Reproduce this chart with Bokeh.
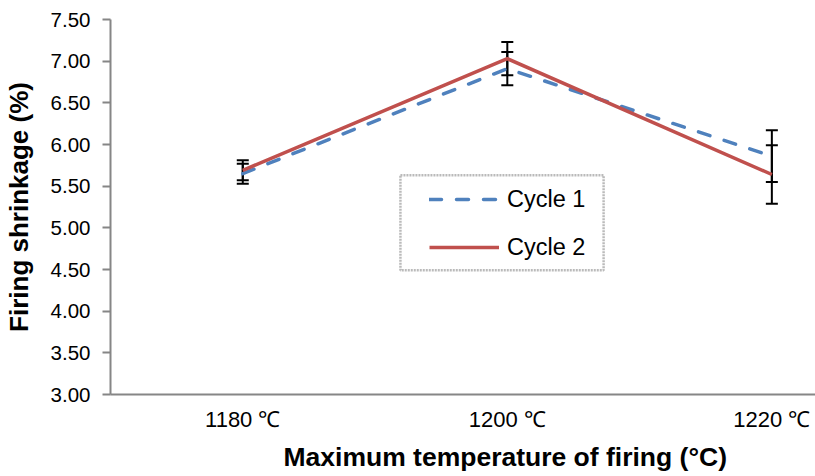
from bokeh.plotting import figure
from bokeh.models import (ColumnDataSource, Range1d, FixedTicker, Whisker, TeeHead,
                          Legend, LegendItem, BoxAnnotation, Title)
from bokeh.embed import file_html
from bokeh.resources import INLINE

# Firing shrinkage per maximum firing temperature, two firing cycles
categories = ["1180 \u2103", "1200 \u2103", "1220 \u2103"]
cycle1 = [5.65, 6.91, 5.86]
cycle1_err = [0.12, 0.20, 0.31]
cycle2 = [5.69, 7.03, 5.64]
cycle2_err = [0.12, 0.20, 0.35]
y_ticks = [3.0, 3.5, 4.0, 4.5, 5.0, 5.5, 6.0, 6.5, 7.0, 7.5]

xs = list(range(len(categories)))
BLUE = "#4F81BD"
RED = "#C0504D"
AXIS = "#868686"
FONT = "Liberation Sans"

src1 = ColumnDataSource(dict(x=xs, y=cycle1,
                             lo=[v - e for v, e in zip(cycle1, cycle1_err)],
                             hi=[v + e for v, e in zip(cycle1, cycle1_err)]))
src2 = ColumnDataSource(dict(x=xs, y=cycle2,
                             lo=[v - e for v, e in zip(cycle2, cycle2_err)],
                             hi=[v + e for v, e in zip(cycle2, cycle2_err)]))

p = figure(width=815, height=476, output_backend="svg", toolbar_location=None,
           x_range=Range1d(-0.5, 2.165), y_range=Range1d(3.0, 7.5),
           min_border_left=110, min_border_right=0, min_border_top=19,
           min_border_bottom=82)
p.outline_line_color = None
p.grid.visible = False
p.background_fill_color = "white"
p.border_fill_color = "white"

r1 = p.line("x", "y", source=src1, line_color=BLUE, line_width=3.5,
            line_dash="12 15", line_cap="round")
r2 = p.line("x", "y", source=src2, line_color=RED, line_width=3.5)

for src in (src1, src2):
    p.add_layout(Whisker(source=src, base="x", lower="lo", upper="hi",
                         line_color="black", line_width=2,
                         lower_head=TeeHead(size=12, line_color="black", line_width=2),
                         upper_head=TeeHead(size=12, line_color="black", line_width=2)))

# x axis: category labels, no tick marks
xa = p.xaxis[0]
xa.ticker = FixedTicker(ticks=xs)
xa.major_label_overrides = {i: c for i, c in zip(xs, categories)}
xa.major_tick_out = 0
xa.major_tick_in = 0
xa.minor_tick_out = 0
xa.minor_tick_in = 0
xa.axis_line_color = AXIS
xa.axis_line_width = 2
xa.major_label_text_font = FONT
xa.major_label_text_font_size = "22px"
xa.major_label_text_color = "black"
xa.major_label_standoff = 12

# x axis title, centred under the middle category
p.add_layout(Title(text="Maximum temperature of firing (\u00b0C)", align="left",
                   offset=173, standoff=10,
                   text_font=FONT, text_font_style="bold", text_font_size="26.5px",
                   text_color="black"), "below")

ya = p.yaxis[0]
ya.ticker = FixedTicker(ticks=y_ticks)
ya.major_label_overrides = {t: f"{t:.2f}" for t in y_ticks}
ya.major_tick_out = 8
ya.major_tick_in = 0
ya.minor_tick_out = 0
ya.minor_tick_in = 0
ya.major_tick_line_color = AXIS
ya.major_tick_line_width = 2
ya.axis_line_color = AXIS
ya.axis_line_width = 2
ya.major_label_text_font = FONT
ya.major_label_text_font_size = "20.5px"
ya.major_label_text_color = "black"
ya.major_label_standoff = 12
ya.axis_label = "Firing shrinkage (%)"
ya.axis_label_text_font = FONT
ya.axis_label_text_font_style = "bold"
ya.axis_label_text_font_size = "26px"
ya.axis_label_text_color = "black"
ya.axis_label_standoff = 14

# legend frame
p.add_layout(BoxAnnotation(left=0.596, right=1.364, top=5.63, bottom=4.49,
                           fill_color="white", fill_alpha=1.0,
                           line_color="#1a1a1a", line_width=2.5, line_dash="2 1"))

legend = Legend(items=[LegendItem(label="Cycle 1", renderers=[r1]),
                       LegendItem(label="Cycle 2", renderers=[r2])],
                location=(319, 133), padding=0, margin=0, spacing=20,
                glyph_width=70, glyph_height=28, label_height=28,
                label_standoff=8, border_line_color=None,
                background_fill_alpha=0,
                label_text_font=FONT, label_text_font_size="23.5px",
                label_text_color="black")
p.add_layout(legend, "center")

open("out.html", "w").write(file_html(p, INLINE))
